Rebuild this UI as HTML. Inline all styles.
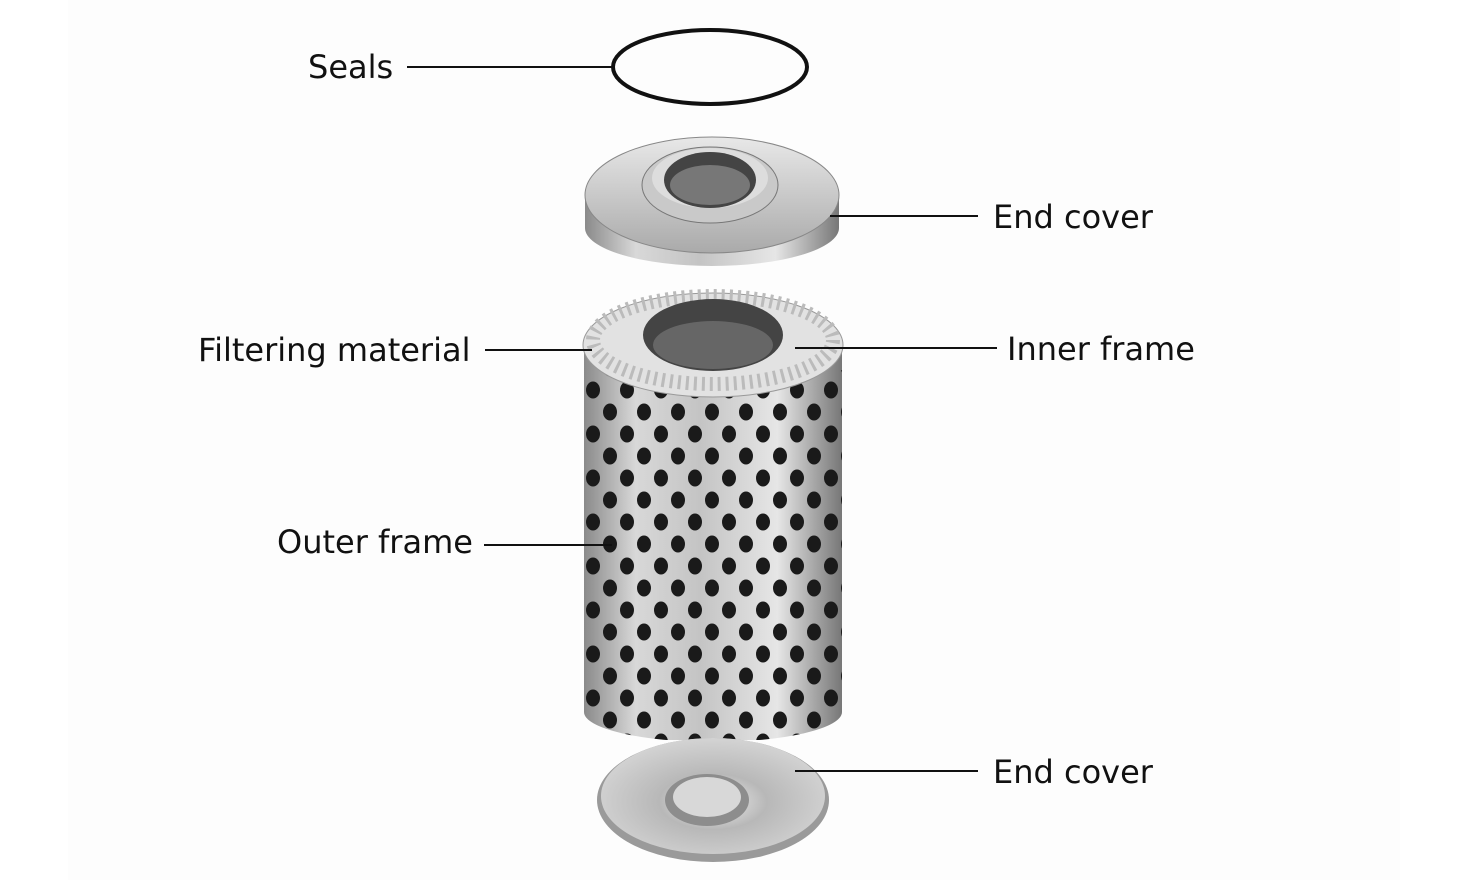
<!DOCTYPE html>
<html><head><style>
html,body{margin:0;padding:0;background:#fff;}
svg{display:block;}
text{font-family:"DejaVu Sans","Liberation Sans",sans-serif;font-size:32px;fill:#111;}
</style></head><body>
<svg width="1467" height="890" viewBox="0 0 1467 890" xmlns="http://www.w3.org/2000/svg">
<defs>
<linearGradient id="metal" x1="0" x2="1" y1="0" y2="0">
<stop offset="0" stop-color="#8a8a8a"/><stop offset="0.2" stop-color="#d8d8d8"/><stop offset="0.45" stop-color="#c4c4c4"/><stop offset="0.75" stop-color="#e6e6e6"/><stop offset="1" stop-color="#777"/>
</linearGradient>
<linearGradient id="cap" x1="0" x2="0" y1="0" y2="1">
<stop offset="0" stop-color="#e8e8e8"/><stop offset="1" stop-color="#aaa"/>
</linearGradient>
<radialGradient id="dish" cx="0.5" cy="0.55" r="0.6">
<stop offset="0" stop-color="#f0f0f0"/><stop offset="0.4" stop-color="#b8b8b8"/><stop offset="1" stop-color="#d8d8d8"/>
</radialGradient>
<pattern id="holes" width="34" height="44" patternUnits="userSpaceOnUse" x="585" y="380">
<ellipse cx="8" cy="10" rx="7" ry="8.5" fill="#1a1a1a"/>
<ellipse cx="25" cy="32" rx="7" ry="8.5" fill="#1a1a1a"/>
</pattern>
<clipPath id="cyl"><path d="M584 345 L584 712 A129 30 0 0 0 842 712 L842 345 Z"/></clipPath>
</defs>
<rect x="68" y="0" width="1332" height="880" fill="#fdfdfd"/>

<ellipse cx="710" cy="67" rx="97" ry="37" fill="none" stroke="#111" stroke-width="4"/>

<path d="M585 195 L585 228 A127 38 0 0 0 839 228 L839 195 Z" fill="url(#metal)"/>
<ellipse cx="712" cy="195" rx="127" ry="58" fill="url(#cap)" stroke="#888"/>
<ellipse cx="710" cy="185" rx="68" ry="38" fill="#c9c9c9" stroke="#777"/>
<ellipse cx="710" cy="178" rx="58" ry="30" fill="#ddd"/>
<ellipse cx="710" cy="180" rx="46" ry="28" fill="#444"/>
<ellipse cx="710" cy="185" rx="40" ry="20" fill="#777"/>

<g clip-path="url(#cyl)">
<rect x="584" y="340" width="258" height="400" fill="url(#metal)"/>
<rect x="584" y="370" width="258" height="370" fill="url(#holes)"/>
</g>
<ellipse cx="713" cy="345" rx="130" ry="52" fill="#e2e2e2" stroke="#999"/>
<ellipse cx="713" cy="340" rx="120" ry="44" fill="none" stroke="#bbb" stroke-width="14" stroke-dasharray="3 5"/>
<ellipse cx="713" cy="335" rx="70" ry="36" fill="#444"/>
<ellipse cx="713" cy="345" rx="60" ry="24" fill="#666"/>

<ellipse cx="713" cy="800" rx="116" ry="62" fill="#9a9a9a"/>
<ellipse cx="713" cy="796" rx="112" ry="58" fill="url(#dish)"/>
<ellipse cx="707" cy="800" rx="42" ry="26" fill="#8d8d8d"/>
<ellipse cx="707" cy="797" rx="34" ry="20" fill="#d8d8d8"/>

<g stroke="#111" stroke-width="2">
<line x1="407" y1="67" x2="612" y2="67"/>
<line x1="830" y1="216" x2="978" y2="216"/>
<line x1="485" y1="350" x2="592" y2="350"/>
<line x1="795" y1="348" x2="997" y2="348"/>
<line x1="484" y1="545" x2="612" y2="545"/>
<line x1="795" y1="771" x2="978" y2="771"/>
</g>
<text x="308" y="78">Seals</text>
<text x="993" y="228">End cover</text>
<text x="198" y="361">Filtering material</text>
<text x="1007" y="360">Inner frame</text>
<text x="277" y="553">Outer frame</text>
<text x="993" y="783">End cover</text>
</svg>
</body></html>
